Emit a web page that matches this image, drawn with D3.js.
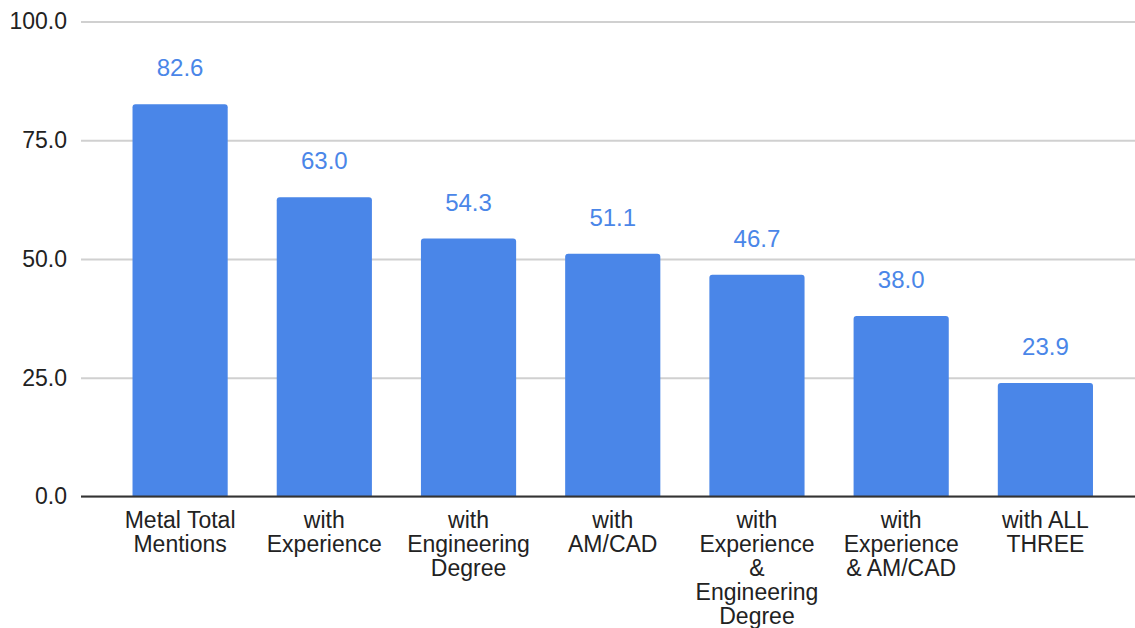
<!DOCTYPE html>
<html>
<head>
<meta charset="utf-8">
<script src="https://cdn.jsdelivr.net/npm/d3@7"></script>
<style>
  html, body { margin: 0; padding: 0; background: #fff; }
  svg { display: block; font-family: "Liberation Sans", Arial, Helvetica, sans-serif; }
</style>
</head>
<body>
<svg id="chart" width="1135" height="628"></svg>
<script>
// Category labels (one entry per bar, lines split with "|")
const categories = [
  "Metal Total|Mentions",
  "with|Experience",
  "with|Engineering|Degree",
  "with|AM/CAD",
  "with|Experience|&|Engineering|Degree",
  "with|Experience|& AM/CAD",
  "with ALL|THREE"
];
const values = [82.6, 63.0, 54.3, 51.1, 46.7, 38.0, 23.9];
const yTicks = [0, 25, 50, 75, 100];

const plot = { left: 81, right: 1135, top: 21.5, bottom: 496.5 };
const barColor = "#4a86e8";

const svg = d3.select("#chart");

const x = d3.scaleBand()
  .domain(categories)
  .range([108, 1117.5])
  .paddingInner(0.34)
  .paddingOuter(0.17);

const y = d3.scaleLinear()
  .domain([0, 100])
  .range([plot.bottom, plot.top]);

// Horizontal gridlines with tick labels
const yAxis = svg.append("g")
  .attr("transform", `translate(${plot.left},0)`)
  .call(d3.axisLeft(y)
    .tickValues(yTicks)
    .tickFormat(d3.format(".1f"))
    .tickSize(-(plot.right - plot.left))
    .tickPadding(14));
yAxis.select(".domain").remove();
yAxis.selectAll(".tick line")
  .attr("stroke", "#d0d0d0")
  .attr("stroke-width", 2);
yAxis.selectAll(".tick text")
  .attr("fill", "#222")
  .style("font-size", "23px");

// Bars with slightly rounded top corners
const r = 3;
function barPath(d, i) {
  const x0 = x(categories[i]);
  const w = x.bandwidth();
  const yt = y(d);
  const yb = y(0);
  return `M${x0},${yb}V${yt + r}Q${x0},${yt} ${x0 + r},${yt}` +
         `H${x0 + w - r}Q${x0 + w},${yt} ${x0 + w},${yt + r}V${yb}Z`;
}
svg.append("g")
  .selectAll("path")
  .data(values)
  .join("path")
  .attr("d", barPath)
  .attr("fill", barColor);

// Baseline
svg.append("line")
  .attr("x1", plot.left).attr("x2", plot.right)
  .attr("y1", y(0)).attr("y2", y(0))
  .attr("stroke", "#333").attr("stroke-width", 2);

// Value labels above bars
svg.append("g")
  .selectAll("text")
  .data(values)
  .join("text")
  .attr("x", (d, i) => x(categories[i]) + x.bandwidth() / 2)
  .attr("y", d => y(d) - 28)
  .attr("text-anchor", "middle")
  .attr("fill", barColor)
  .style("font-size", "24px")
  .text(d => d3.format(".1f")(d));

// Category labels, wrapped over several lines
const catG = svg.append("g");
categories.forEach(c => {
  const t = catG.append("text")
    .attr("text-anchor", "middle")
    .attr("fill", "#222")
    .style("font-size", "23px");
  c.split("|").forEach((line, j) => {
    t.append("tspan")
      .attr("x", x(c) + x.bandwidth() / 2)
      .attr("y", 528 + j * 24)
      .text(line);
  });
});
</script>
</body>
</html>
